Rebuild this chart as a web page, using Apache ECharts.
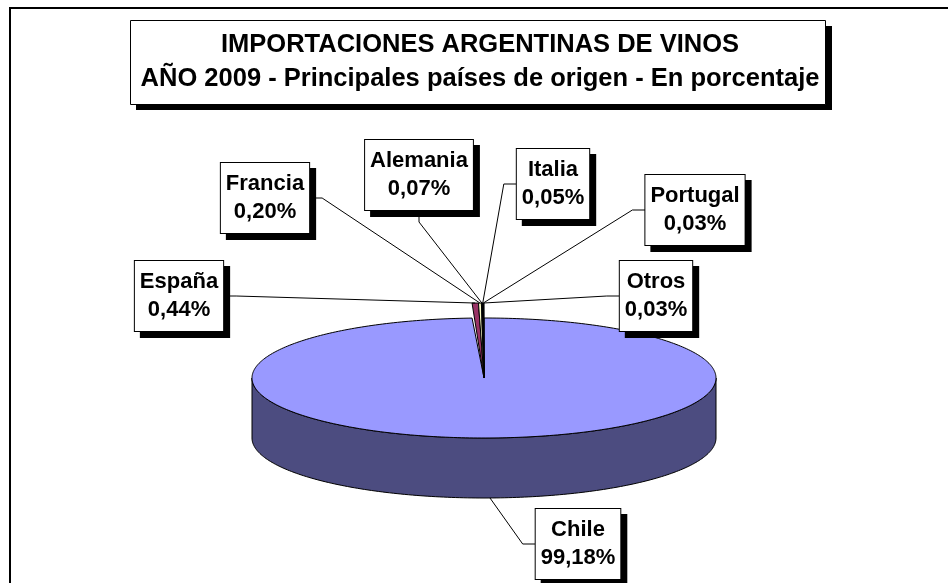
<!DOCTYPE html>
<html>
<head>
<meta charset="utf-8">
<script src="https://cdn.jsdelivr.net/npm/echarts@6/dist/echarts.min.js"></script>
<style>
html, body { margin: 0; padding: 0; background: #fff; }
#chart { width: 948px; height: 583px; }
</style>
</head>
<body>
<div id="chart"></div>
<script>
// importaciones de vinos 2009 - participacion por pais (%)
var paises = ['Chile', 'España', 'Francia', 'Alemania', 'Italia', 'Portugal', 'Otros'];
var porcentajes = [99.18, 0.44, 0.20, 0.07, 0.05, 0.03, 0.03];
var colores = ['#9999FF', '#993366', '#FFFFCC', '#CCFFFF', '#660066', '#FF8080', '#0066CC'];

// centro de cada caja de etiqueta y lado donde entra la linea guia
var etiquetas = [
  { x: 578, y: 544, lado: 'left' },
  { x: 179, y: 296, lado: 'right' },
  { x: 265, y: 198, lado: 'right' },
  { x: 419, y: 175, lado: 'bottom' },
  { x: 553, y: 184, lado: 'left' },
  { x: 695, y: 210, lado: 'left' },
  { x: 656, y: 296, lado: 'left' }
];

// torta 3D
var cx = 484, cy = 378, rx = 232, ry = 60, alto = 60, elevar = 15;
var fuente = 'bold 22px "Liberation Sans", Arial, sans-serif';

var ctx = document.createElement('canvas').getContext('2d');
ctx.font = fuente;

function punto(ang, dy) { // grados, sentido horario desde las 12
  var a = ang * Math.PI / 180;
  return [cx + rx * Math.sin(a), cy - ry * Math.cos(a) + (dy || 0)];
}
function arco(a0, a1, dy) {
  var pts = [];
  var n = Math.max(1, Math.ceil(a1 - a0));
  for (var k = 0; k <= n; k++) {
    pts.push(punto(a0 + (a1 - a0) * k / n, dy));
  }
  return pts;
}
function texto(i) {
  return paises[i] + '\n' + porcentajes[i].toFixed(2).replace('.', ',') + '%';
}

var chart = echarts.init(document.getElementById('chart'));
chart.setOption({
  animation: false,
  title: {
    text: 'IMPORTACIONES ARGENTINAS DE VINOS\nAÑO 2009 - Principales países de origen - En porcentaje',
    left: 480,
    top: 20,
    textAlign: 'center',
    padding: [8, 0, 8, 0],
    textStyle: {
      fontFamily: '"Liberation Sans", Arial, sans-serif',
      fontWeight: 'bold',
      fontSize: 25.5,
      lineHeight: 34,
      color: '#000'
    }
  },
  graphic: [{
    type: 'rect',
    z: -10,
    shape: { x: 10, y: 8, width: 1000, height: 1000 },
    style: { fill: 'none', stroke: '#000', lineWidth: 2 }
  }, {
    // sombra y caja del titulo
    type: 'rect',
    z: -5,
    shape: { x: 136, y: 26, width: 696, height: 84 },
    style: { fill: '#000' }
  }, {
    type: 'rect',
    z: -4,
    shape: { x: 130.5, y: 20.5, width: 695, height: 84 },
    style: { fill: '#fff', stroke: '#000', lineWidth: 1 }
  }],
  series: [{
    type: 'custom',
    coordinateSystem: 'none',
    data: porcentajes,
    renderItem: function (params, api) {
      var i = params.dataIndex;
      var total = 0, ini = 0;
      for (var k = 0; k < porcentajes.length; k++) {
        total += porcentajes[k];
        if (k < i) ini += porcentajes[k];
      }
      var a0 = ini / total * 360;
      var a1 = (ini + api.value(0)) / total * 360;
      var lift = i === 0 ? 0 : elevar;
      var hijos = [];

      if (i === 0) {
        // cara lateral visible
        var s0 = Math.max(a0, 90), s1 = Math.min(a1, 270);
        var sup = arco(s0, s1, 0);
        var inf = arco(s0, s1, alto).reverse();
        hijos.push({
          type: 'polygon',
          shape: { points: sup.concat(inf) },
          style: { fill: '#4C4C80', stroke: '#000', lineWidth: 1 }
        });
      }
      hijos.push({
        type: 'polygon',
        shape: { points: [[cx, cy]].concat(arco(a0, a1, -lift)) },
        style: { fill: colores[i], stroke: '#000', lineWidth: 1 }
      });

      // linea guia
      var am = (a0 + a1) / 2;
      var anc = (am > 90 && am < 270) ? punto(am, alto) : punto(am, -lift);
      var et = etiquetas[i];
      var lineas = texto(i).split('\n');
      var w = Math.max(ctx.measureText(lineas[0]).width, ctx.measureText(lineas[1]).width);
      var hw = w / 2 + 5, hh = 35;
      var pegue, codo;
      if (et.lado === 'left') { pegue = [et.x - hw, et.y]; codo = [et.x - hw - 13, et.y]; }
      else if (et.lado === 'right') { pegue = [et.x + hw, et.y]; codo = [et.x + hw + 13, et.y]; }
      else { pegue = [et.x, et.y + hh]; codo = [et.x, et.y + hh + 12]; }
      hijos.push({
        type: 'polyline',
        shape: { points: [anc, codo, pegue] },
        style: { fill: null, stroke: '#000', lineWidth: 1 }
      });
      hijos.push({
        type: 'text',
        x: et.x,
        y: et.y,
        style: {
          text: texto(i),
          font: fuente,
          fill: '#000',
          align: 'center',
          verticalAlign: 'middle',
          lineHeight: 28,
          backgroundColor: '#fff',
          borderColor: '#000',
          borderWidth: 1,
          padding: [7, 5],
          shadowColor: '#000',
          shadowBlur: 0,
          shadowOffsetX: 6,
          shadowOffsetY: 6
        }
      });
      return { type: 'group', children: hijos };
    }
  }]
});
</script>
</body>
</html>
